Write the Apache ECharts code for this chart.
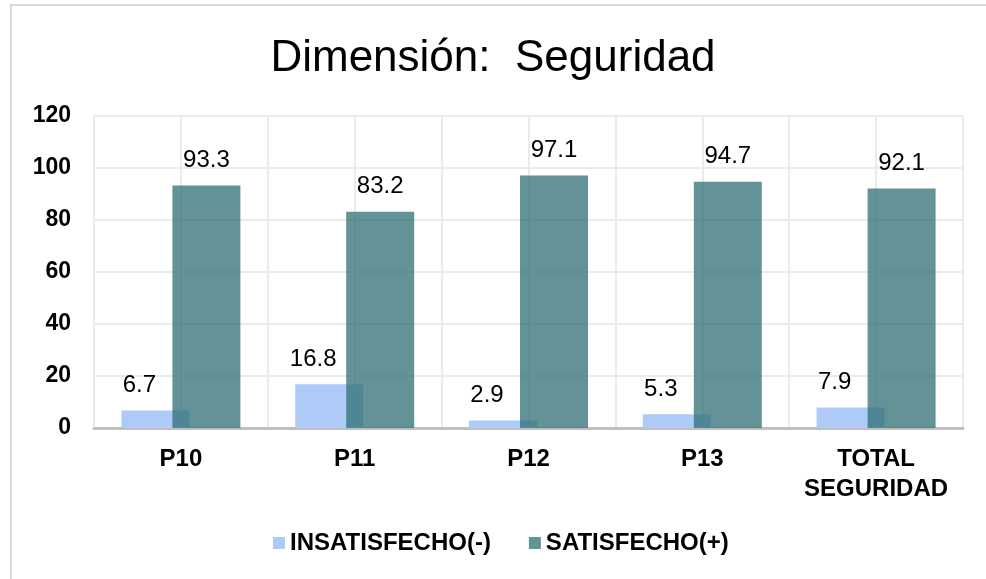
<!DOCTYPE html>
<html>
<head>
<meta charset="utf-8">
<script src="https://cdn.jsdelivr.net/npm/echarts@6/dist/echarts.min.js"></script>
<style>
  html, body { margin: 0; padding: 0; background: #fff; }
  #main { width: 986px; height: 579px; }
  #frame { position: absolute; left: 10px; top: 4px; width: 990px; height: 600px;
           border-left: 2px solid #d9d9d9; border-top: 2px solid #d9d9d9; pointer-events: none; }
</style>
</head>
<body>
<div id="main"></div>
<div id="frame"></div>
<script>
// datos de la dimension seguridad
var categorias = ['P10', 'P11', 'P12', 'P13', 'TOTAL\nSEGURIDAD'];
var insatisfecho = [6.7, 16.8, 2.9, 5.3, 7.9];
var satisfecho = [93.3, 83.2, 97.1, 94.7, 92.1];
var nombres = ['INSATISFECHO(-)', 'SATISFECHO(+)'];

var myChart = echarts.init(document.getElementById('main'));
var fuente = '"Liberation Sans", Arial, sans-serif';

// eje auxiliar solo para las lineas verticales a media categoria
var mitades = [];
for (var i = 0; i < categorias.length * 2; i++) mitades.push('h' + i);

var option = {
    backgroundColor: '#fff',
    animation: false,
    title: {
        text: 'Dimensión:  Seguridad',
        left: 'center',
        top: 32,
        textStyle: { fontFamily: fuente, fontSize: 44, fontWeight: 'normal', color: '#000' }
    },
    legend: {
        data: nombres,
        top: 526,
        left: 268,
        itemWidth: 12,
        itemHeight: 12,
        itemGap: 38,
        icon: 'rect',
        textStyle: { fontFamily: fuente, fontSize: 24, fontWeight: 'bold', color: '#000' }
    },
    grid: { left: 94, right: 23, top: 116, bottom: 151 },
    xAxis: [{
        type: 'category',
        data: categorias,
        axisLine: { lineStyle: { color: '#bfbfbf', width: 3 } },
        axisTick: { show: false },
        splitLine: { show: false },
        axisLabel: {
            margin: 16, interval: 0, lineHeight: 30,
            fontFamily: fuente, fontSize: 24, fontWeight: 'bold', color: '#000'
        }
    }, {
        type: 'category',
        data: mitades,
        position: 'bottom',
        axisLine: { show: false },
        axisTick: { show: false },
        axisLabel: { show: false },
        splitLine: { show: true, lineStyle: { color: '#ebebeb', width: 2 } }
    }],
    yAxis: {
        type: 'value',
        min: 0,
        max: 120,
        interval: 20,
        axisLine: { show: false },
        axisTick: { show: false },
        splitLine: { lineStyle: { color: '#ebebeb', width: 2 } },
        axisLabel: {
            margin: 23,
            fontFamily: fuente, fontSize: 23, fontWeight: 'bold', color: '#000'
        }
    },
    series: [{
        name: nombres[0],
        type: 'bar',
        data: insatisfecho,
        barWidth: 68,
        barGap: '-25%',
        itemStyle: { color: '#aecbf8' },
        label: {
            show: true, position: 'top', distance: 13, offset: [-16, 0],
            fontFamily: fuente, fontSize: 24, color: '#000'
        }
    }, {
        name: nombres[1],
        type: 'bar',
        data: satisfecho,
        barWidth: 68,
        barGap: '-25%',
        itemStyle: { color: 'rgba(47,111,116,0.75)' },
        label: {
            show: true, position: 'top', distance: 13,
            fontFamily: fuente, fontSize: 24, color: '#000'
        }
    }]
};

myChart.setOption(option);
</script>
</body>
</html>
